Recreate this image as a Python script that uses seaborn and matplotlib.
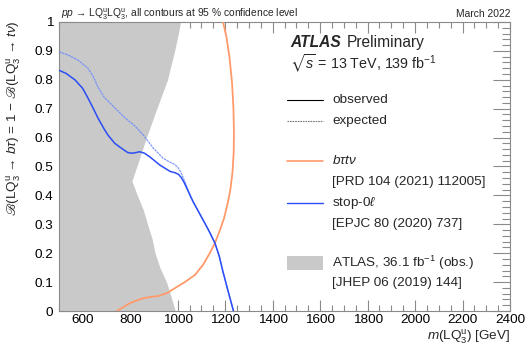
import matplotlib
matplotlib.use("Agg")
import matplotlib.pyplot as plt
import seaborn as sns
import pandas as pd
from matplotlib.patches import Rectangle
from matplotlib.ticker import MultipleLocator

# ---- data: mass (GeV) and branching ratio B(LQ -> b tau) ----
# bτtν observed exclusion contour
btt_mass = [744, 800, 850, 880, 920, 955, 990, 1030, 1073, 1107, 1135, 1157, 1178,
            1195, 1210, 1222, 1231, 1236, 1237, 1235, 1229, 1218, 1205, 1191]
btt_br = [0.0, 0.028, 0.043, 0.048, 0.052, 0.062, 0.08, 0.10, 0.125, 0.16, 0.20, 0.235,
          0.28, 0.32, 0.37, 0.42, 0.48, 0.55, 0.62, 0.70, 0.79, 0.88, 0.95, 1.0]

# stop-0l observed contour
stop_obs_mass = [500, 530, 567, 600, 622, 645, 664, 690, 706, 735, 765, 790, 810, 840,
                 860, 883, 925, 968, 990, 1003, 1015, 1027, 1040, 1065, 1107, 1130, 1157,
                 1175, 1191, 1212, 1235]
stop_obs_br = [0.833, 0.822, 0.80, 0.77, 0.737, 0.70, 0.668, 0.63, 0.609, 0.58, 0.562,
               0.548, 0.546, 0.551, 0.546, 0.533, 0.505, 0.483, 0.478, 0.473, 0.462,
               0.445, 0.422, 0.378, 0.315, 0.28, 0.235, 0.19, 0.135, 0.07, 0.0]

# stop-0l expected contour
stop_exp_mass = [500, 540, 580, 622, 645, 664, 690, 723, 778, 820, 855, 897, 938, 965,
                 985, 1000, 1012, 1024, 1036, 1052, 1065, 1107, 1130, 1157, 1175, 1191,
                 1212, 1235]
stop_exp_br = [0.897, 0.885, 0.868, 0.84, 0.81, 0.775, 0.74, 0.713, 0.668, 0.64, 0.609,
               0.564, 0.529, 0.516, 0.508, 0.498, 0.482, 0.46, 0.436, 0.40, 0.378, 0.315,
               0.28, 0.235, 0.19, 0.135, 0.07, 0.0]

# ATLAS 36.1 fb-1 observed excluded region (right edge of the band)
old_br = [1.0, 0.95, 0.9, 0.8, 0.7, 0.6, 0.55, 0.5, 0.45, 0.4, 0.35, 0.3, 0.25, 0.2,
          0.15, 0.1, 0.05, 0.0]
old_mass = [1012, 1000, 987, 957, 912, 868, 848, 828, 807, 830, 855, 873, 892, 905,
            925, 953, 972, 990]

xticks = [600, 800, 1000, 1200, 1400, 1600, 1800, 2000, 2200, 2400]
yticks = [0, 0.1, 0.2, 0.3, 0.4, 0.5, 0.6, 0.7, 0.8, 0.9, 1]

# ---- style ----
sns.set_style("ticks")
plt.rcParams["font.family"] = ["Liberation Sans", "DejaVu Sans"]
plt.rcParams["mathtext.fontset"] = "custom"
plt.rcParams["mathtext.rm"] = "Liberation Sans"
plt.rcParams["mathtext.it"] = "Liberation Sans:italic"
plt.rcParams["mathtext.bf"] = "Liberation Sans:bold"
plt.rcParams["mathtext.sf"] = "STIXGeneral"   # provides the script B glyph
plt.rcParams["mathtext.fallback"] = "stix"

ORANGE = "#ff9a6a"
BLUE = "#2a4df5"
GREY = "#c9c9c9"
TICK = "#8a8a8a"

fig = plt.figure(figsize=(5.30, 3.46), dpi=100)
ax = fig.add_axes([59 / 530, 1 - 311 / 346, 451 / 530, 289 / 346])

ax.fill_betweenx(old_br, 500, old_mass, color=GREY, lw=0, zorder=1)

btt = pd.DataFrame({"m": btt_mass, "br": btt_br})
obs = pd.DataFrame({"m": stop_obs_mass, "br": stop_obs_br})
exp = pd.DataFrame({"m": stop_exp_mass, "br": stop_exp_br})

sns.lineplot(data=btt, x="m", y="br", sort=False, estimator=None, color=ORANGE,
             lw=1.3, ax=ax, zorder=3)
sns.lineplot(data=exp, x="m", y="br", sort=False, estimator=None, color="#6a88ff",
             lw=0.9, ls=(0, (2.0, 0.6)), alpha=0.85, ax=ax, zorder=4)
sns.lineplot(data=obs, x="m", y="br", sort=False, estimator=None, color=BLUE,
             lw=1.1, ax=ax, zorder=5)

ax.set_xlim(500, 2400)
ax.set_ylim(0, 1)
ax.set_xticks(xticks)
ax.set_yticks(yticks)
ax.set_yticklabels(["0", "0.1", "0.2", "0.3", "0.4", "0.5", "0.6", "0.7", "0.8", "0.9", "1"])
ax.xaxis.set_minor_locator(MultipleLocator(50))
ax.yaxis.set_minor_locator(MultipleLocator(0.02))
ax.tick_params(axis="both", which="both", direction="in", top=True, right=True,
               colors=TICK, labelcolor="black", labelsize=9.7, width=0.8)
ax.tick_params(axis="x", which="major", length=8, pad=2.5)
ax.tick_params(axis="x", which="minor", length=4)
ax.tick_params(axis="y", which="major", length=12, pad=4)
ax.tick_params(axis="y", which="minor", length=6)
for s in ax.spines.values():
    s.set_color(TICK)
    s.set_linewidth(0.8)

ax.set_xlabel("")
ax.set_ylabel("")
fig.text(510 / 530, 1 - 337 / 346, r"$m$(LQ$_3^\mathrm{u}$) [GeV]", ha="right",
         va="center", fontsize=9.7)
fig.text(14 / 530, 1 - 20 / 346,
         r"$\mathsf{ℬ}$(LQ$_3^\mathrm{u}$ → $b\tau$) = 1 − $\mathsf{ℬ}$(LQ$_3^\mathrm{u}$ → $t\nu$)",
         rotation=90, ha="center", va="top", fontsize=9.7)

fig.text(61 / 530, 1 - 14 / 346,
         r"$pp$ → LQ$_3^\mathrm{u}$LQ$_3^\mathrm{u}$, all contours at 95 % confidence level",
         ha="left", va="center", fontsize=7.4)
fig.text(510 / 530, 1 - 14 / 346, "March 2022", ha="right", va="center", fontsize=7.4)

# ---- legend block ----
def fx(px):
    return (px - 59) / 451

def fy(py):
    return (311 - py) / 289

T = ax.transAxes
ax.text(fx(290), fy(43), "ATLAS", transform=T, fontsize=11.2, fontweight="bold",
        fontstyle="italic", va="center", ha="left")
ax.text(fx(347), fy(43), "Preliminary", transform=T, fontsize=11.2, va="center", ha="left")
ax.text(fx(290), fy(64), r"$\sqrt{s}$ = 13 TeV, 139 fb$^{\mathregular{-1}}$", transform=T,
        fontsize=10.3, va="center", ha="left")

x0, x1, xt = fx(287), fx(323), fx(332)
ax.plot([x0, x1], [fy(100)] * 2, transform=T, color="black", lw=0.8)
ax.text(xt, fy(100), "observed", transform=T, fontsize=9.7, va="center")
ax.plot([x0, x1], [fy(121)] * 2, transform=T, color="#777777", lw=0.8, ls=(0, (1.5, 0.8)))
ax.text(xt, fy(121), "expected", transform=T, fontsize=9.7, va="center")

ax.plot([x0, x1], [fy(161)] * 2, transform=T, color=ORANGE, lw=1.2)
ax.text(xt, fy(161), r"$b\tau t\nu$", transform=T, fontsize=9.7, va="center")
ax.text(xt, fy(182), "[PRD 104 (2021) 112005]", transform=T, fontsize=9.7, va="center")

ax.plot([x0, x1], [fy(203)] * 2, transform=T, color=BLUE, lw=1.0)
ax.text(xt, fy(203), r"stop-0$\ell$", transform=T, fontsize=9.7, va="center")
ax.text(xt, fy(224), "[EPJC 80 (2020) 737]", transform=T, fontsize=9.7, va="center")

ax.add_patch(Rectangle((x0, fy(270)), x1 - x0, fy(256) - fy(270), transform=T,
                       color=GREY, lw=0))
ax.text(xt, fy(263), r"ATLAS, 36.1 fb$^{\mathregular{-1}}$ (obs.)", transform=T,
        fontsize=9.7, va="center")
ax.text(xt, fy(283), "[JHEP 06 (2019) 144]", transform=T, fontsize=9.7, va="center")

fig.savefig("out.png", dpi=100)
